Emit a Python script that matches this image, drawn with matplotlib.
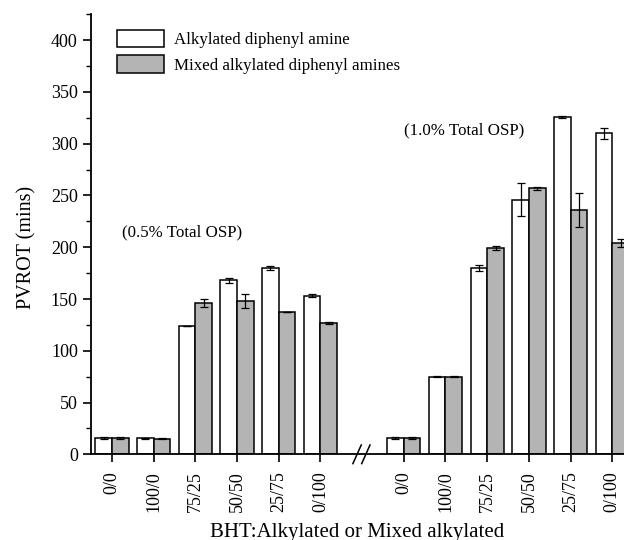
import numpy as np
import matplotlib.pyplot as plt

plt.rcParams["font.family"] = ["Liberation Serif", "DejaVu Serif"]

ratios = ["0/0", "100/0", "75/25", "50/50", "25/75", "0/100"]

# 0.5% total OSP
alk_05 = [16, 15.5, 124, 168, 180, 153]
alk_05_err = [0.8, 0.5, 0, 2.5, 1.5, 1.5]
mix_05 = [16, 15, 146, 148, 137.5, 127]
mix_05_err = [0.8, 0.5, 4, 6.5, 0, 0.8]

# 1.0% total OSP
alk_10 = [16, 75, 180, 246, 326, 310]
alk_10_err = [0.8, 0.5, 3, 16, 1.2, 5]
mix_10 = [16, 75, 199, 257, 236, 204]
mix_10_err = [0.8, 0.5, 2, 1.5, 16, 4]

x1 = np.arange(len(ratios))
x2 = x1 + 7
w = 0.4

fig = plt.figure(figsize=(6.24, 5.4), dpi=100)
ax = fig.add_axes([91 / 624, 85.7 / 540, 533 / 624, 440 / 540])

edge = dict(edgecolor="black", linewidth=1.1)
err = dict(ecolor="black", capsize=3, elinewidth=0.9, capthick=0.9)

ax.bar(x1 - w / 2, alk_05, w, color="white", yerr=alk_05_err, error_kw=err,
       label="Alkylated diphenyl amine", **edge)
ax.bar(x1 + w / 2, mix_05, w, color="#b4b4b4", yerr=mix_05_err, error_kw=err,
       label="Mixed alkylated diphenyl amines", **edge)
ax.bar(x2 - w / 2, alk_10, w, color="white", yerr=alk_10_err, error_kw=err, **edge)
ax.bar(x2 + w / 2, mix_10, w, color="#b4b4b4", yerr=mix_10_err, error_kw=err, **edge)

ax.set_xlim(-0.5, 12.28)
ax.set_ylim(0, 425)
ax.set_xticks(np.concatenate([x1, x2]))
ax.set_xticklabels(ratios + ratios, rotation=90, fontsize=13)
ax.set_yticks(np.arange(0, 401, 50))
ax.set_yticks(np.arange(25, 426, 50), minor=True)
ax.tick_params(axis="y", labelsize=13, direction="out", length=6, width=1.2)
ax.tick_params(axis="y", which="minor", length=3.5, width=1.0)
ax.tick_params(axis="x", direction="out", length=6, width=1.2, pad=6)

for s in ["top", "right"]:
    ax.spines[s].set_visible(False)
for s in ["left", "bottom"]:
    ax.spines[s].set_linewidth(1.3)

# axis break marks
for xb in [5.88, 6.09]:
    ax.plot([xb - 0.1, xb + 0.1], [-9, 9], color="black", lw=1.1,
            clip_on=False)

ax.text(0.24, 214, "(0.5% Total OSP)", fontsize=12.2, ha="left", va="center")
ax.text(7.0, 313, "(1.0% Total OSP)", fontsize=12.2, ha="left", va="center")

ax.set_ylabel("PVROT (mins)", fontsize=14.5)
ax.yaxis.set_label_coords(-0.102, 0.47)
ax.set_xlabel("BHT:Alkylated or Mixed alkylated", fontsize=15, labelpad=8)

ax.legend(loc="upper left", bbox_to_anchor=(0.02, 1.0), frameon=False,
          fontsize=12.2, handlelength=2.75, handleheight=1.25, labelspacing=0.4,
          handletextpad=0.6)

fig.savefig("out.png", dpi=100)
